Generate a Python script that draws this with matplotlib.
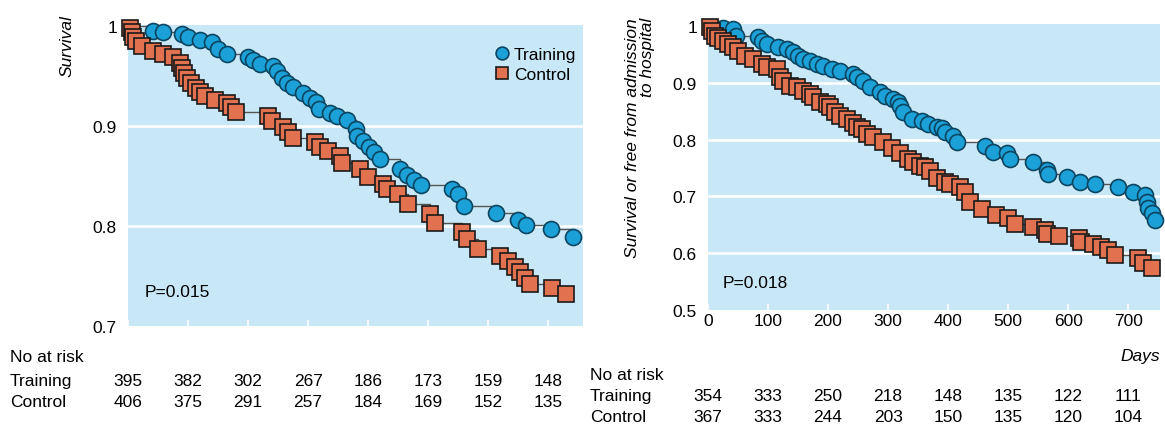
import numpy as np
import matplotlib
matplotlib.use("Agg")
import matplotlib.pyplot as plt
from matplotlib.transforms import blended_transform_factory

plt.rcParams['font.family'] = ['Liberation Sans Narrow', 'Liberation Sans', 'DejaVu Sans']

# Left panel: survival (days, survival at each event)
left_train_days = [42, 58, 90, 100, 120, 140, 150, 165, 200, 208, 220, 242, 248, 257, 265, 275,
                   292, 303, 313, 318, 337, 348, 365, 380, 382, 392, 402, 410, 420, 453, 465, 477,
                   488, 540, 550, 560, 613, 650, 663, 705, 742]
left_train_surv = [0.995, 0.994, 0.992, 0.989, 0.986, 0.984, 0.977, 0.972, 0.969, 0.966, 0.962,
                   0.960, 0.955, 0.948, 0.943, 0.939, 0.933, 0.928, 0.924, 0.917, 0.913, 0.910,
                   0.906, 0.897, 0.890, 0.885, 0.879, 0.874, 0.867, 0.857, 0.851, 0.846, 0.841,
                   0.837, 0.832, 0.820, 0.813, 0.806, 0.801, 0.797, 0.789]
left_ctrl_days = [3, 7, 8, 13, 23, 42, 58, 75, 87, 90, 93, 98, 105, 113, 120, 128, 145, 165, 172,
                  180, 233, 240, 258, 267, 275, 312, 320, 333, 353, 357, 387, 400, 425, 432, 450,
                  467, 503, 512, 557, 565, 583, 620, 633, 645, 653, 662, 670, 707, 730]
left_ctrl_surv = [0.998, 0.994, 0.989, 0.985, 0.980, 0.975, 0.972, 0.969, 0.963, 0.958, 0.953,
                  0.948, 0.943, 0.938, 0.934, 0.930, 0.926, 0.923, 0.919, 0.914, 0.910, 0.905,
                  0.899, 0.894, 0.888, 0.884, 0.879, 0.875, 0.870, 0.863, 0.857, 0.849, 0.842,
                  0.837, 0.832, 0.822, 0.812, 0.803, 0.794, 0.787, 0.777, 0.770, 0.765, 0.759,
                  0.754, 0.748, 0.742, 0.738, 0.732]

# Right panel: survival or free from admission
right_train_days = [25, 42, 46, 83, 90, 98, 117, 132, 142, 150, 158, 170, 182, 192, 207, 220, 242,
                    248, 258, 270, 287, 295, 308, 317, 320, 325, 340, 357, 367, 382, 390, 395, 408,
                    415, 462, 475, 498, 503, 542, 565, 567, 598, 620, 645, 683, 708, 728, 732,
                    733, 740, 745]
right_train_surv = [0.996, 0.994, 0.983, 0.981, 0.974, 0.968, 0.963, 0.959, 0.954, 0.947, 0.942,
                    0.938, 0.933, 0.929, 0.924, 0.920, 0.915, 0.910, 0.903, 0.892, 0.883, 0.876,
                    0.871, 0.867, 0.859, 0.848, 0.836, 0.832, 0.827, 0.823, 0.820, 0.813, 0.806,
                    0.795, 0.788, 0.779, 0.776, 0.765, 0.760, 0.747, 0.739, 0.735, 0.726, 0.721,
                    0.716, 0.708, 0.703, 0.691, 0.680, 0.671, 0.659]
right_ctrl_days = [3, 7, 12, 17, 25, 33, 42, 50, 62, 75, 90, 98, 115, 120, 125, 137, 148, 158,
                   170, 175, 187, 198, 203, 212, 220, 232, 242, 248, 257, 265, 275, 292, 307,
                   320, 333, 342, 353, 362, 370, 382, 395, 403, 420, 428, 437, 457, 480, 500,
                   512, 542, 561, 564, 585, 618, 621, 642, 655, 667, 678, 717, 725, 740]
right_ctrl_surv = [0.998, 0.991, 0.982, 0.978, 0.973, 0.968, 0.963, 0.956, 0.947, 0.942, 0.933,
                   0.928, 0.924, 0.910, 0.903, 0.894, 0.892, 0.885, 0.880, 0.875, 0.867, 0.862,
                   0.857, 0.848, 0.841, 0.836, 0.830, 0.823, 0.818, 0.809, 0.804, 0.795, 0.786,
                   0.777, 0.765, 0.760, 0.753, 0.751, 0.744, 0.733, 0.726, 0.721, 0.716, 0.707,
                   0.690, 0.677, 0.668, 0.662, 0.652, 0.646, 0.640, 0.634, 0.631, 0.626, 0.620,
                   0.617, 0.611, 0.606, 0.597, 0.592, 0.583, 0.574]

# Numbers at risk at 0, 100, ... 700 days
risk_days = [0, 100, 200, 300, 400, 500, 600, 700]
left_risk_train = [395, 382, 302, 267, 186, 173, 159, 148]
left_risk_ctrl = [406, 375, 291, 257, 184, 169, 152, 135]
right_risk_train = [354, 333, 250, 218, 148, 135, 122, 111]
right_risk_ctrl = [367, 333, 244, 203, 150, 135, 120, 104]

W, H = 1165, 427
BG = '#C8E8F7'
BLUE = '#1BA0D8'
ORANGE = '#E2714F'
FS = 12.5

fig = plt.figure(figsize=(W / 100, H / 100), dpi=100)


def fy(y):
    return 1 - y / H


def draw_km(ax, days, surv, marker, color, edge, label):
    d = np.concatenate([[0], days])
    s = np.concatenate([[1.0], surv])
    ax.step(d, s, where='post', color='#555555', lw=1.0, zorder=2)
    ax.plot(days, surv, ls='none', marker=marker, ms=11.5, mfc=color, mec=edge,
            mew=1.2, zorder=3, clip_on=False, label=label)


def style_axes(ax, xmax, ymin, ymax, yticks):
    ax.set_facecolor(BG)
    for sp in ax.spines.values():
        sp.set_visible(False)
    ax.set_xlim(0, xmax)
    ax.set_ylim(ymin, ymax)
    ax.set_yticks(yticks)
    ax.set_yticklabels(['1' if t == 1 else f'{t:.1f}' for t in yticks], fontsize=FS)
    ax.tick_params(axis='y', length=0, pad=8)
    ax.set_xticks(risk_days)
    ax.tick_params(axis='x', direction='in', length=4, width=1.2, color='white')
    for t in yticks:
        if ymin < t < 1:
            ax.axhline(t, color='white', lw=1.8, zorder=1)


def risk_table(ax, ytrain, yctrl, trains, ctrls):
    tr = blended_transform_factory(ax.transData, fig.transFigure)
    for d, a, b in zip(risk_days, trains, ctrls):
        ax.text(d, fy(ytrain), str(a), transform=tr, ha='center', va='center', fontsize=FS)
        ax.text(d, fy(yctrl), str(b), transform=tr, ha='center', va='center', fontsize=FS)


# ---- left panel
ax1 = fig.add_axes([128 / W, fy(327), (583 - 128) / W, (327 - 26) / H])
style_axes(ax1, 758, 0.7, 1.001, [0.7, 0.8, 0.9, 1.0])
ax1.set_xticklabels([])
draw_km(ax1, left_train_days, left_train_surv, 'o', BLUE, '#0B4560', 'Training')
draw_km(ax1, left_ctrl_days, left_ctrl_surv, 's', ORANGE, '#1A1A1A', 'Control')
leg = ax1.legend(loc='upper right', bbox_to_anchor=(1.02, 0.98), frameon=False, fontsize=FS,
                 handletextpad=0.1, labelspacing=0.3, handlelength=1.2, markerscale=0.8)
ax1.text(28, 0.734, 'P=0.015', fontsize=FS, va='center')
fig.text(67 / W, fy(15), 'Survival', rotation=90, ha='center', va='top',
         fontsize=FS, style='italic')
fig.text(10 / W, fy(358), 'No at risk', fontsize=FS, va='center')
fig.text(10 / W, fy(382), 'Training', fontsize=FS, va='center')
fig.text(10 / W, fy(403), 'Control', fontsize=FS, va='center')
risk_table(ax1, 382, 403, left_risk_train, left_risk_ctrl)

# ---- right panel
ax2 = fig.add_axes([708 / W, fy(311), (1160 - 708) / W, (311 - 25) / H])
style_axes(ax2, 753, 0.5, 1.0035, [0.5, 0.6, 0.7, 0.8, 0.9, 1.0])
ax2.set_xticklabels([str(d) for d in risk_days], fontsize=FS)
ax2.tick_params(axis='x', pad=2)
draw_km(ax2, right_train_days, right_train_surv, 'o', BLUE, '#0B4560', 'Training')
draw_km(ax2, right_ctrl_days, right_ctrl_surv, 's', ORANGE, '#1A1A1A', 'Control')
ax2.text(25, 0.548, 'P=0.018', fontsize=FS, va='center')
fig.text(640 / W, fy(18), 'Survival or free from admission\nto hospital', rotation=90,
         ha='center', va='top', fontsize=FS, style='italic', multialignment='right',
         linespacing=0.95)
fig.text(1160 / W, fy(357), 'Days', fontsize=FS, style='italic', ha='right', va='center')
fig.text(590 / W, fy(376), 'No at risk', fontsize=FS, va='center')
fig.text(590 / W, fy(397), 'Training', fontsize=FS, va='center')
fig.text(590 / W, fy(418), 'Control', fontsize=FS, va='center')
risk_table(ax2, 397, 418, right_risk_train, right_risk_ctrl)

fig.savefig('out.png', dpi=100, facecolor='white')
